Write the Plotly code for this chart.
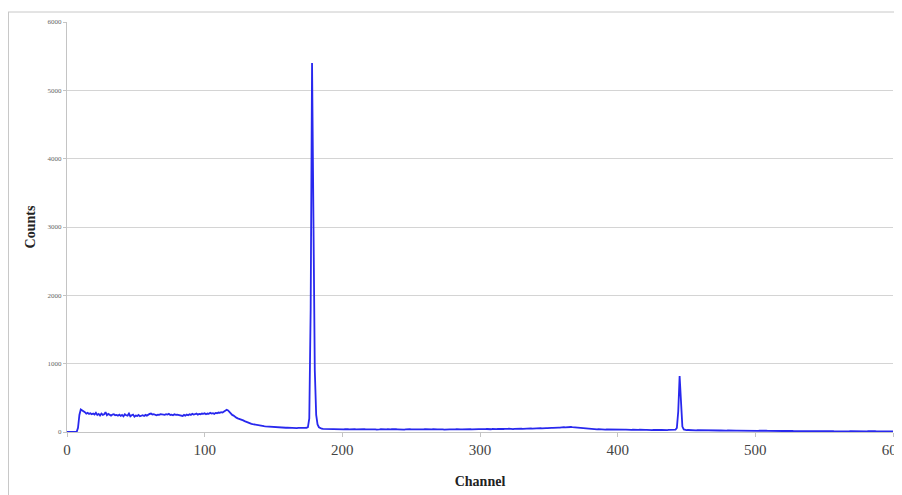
import plotly.graph_objects as go

# Channel numbers 0..600 (one count value per channel)
channels = list(range(0, 601))

counts = [
    # 0-19
    0, 0, 0, 0, 0, 0, 0, 0, 60, 250, 330, 320, 300, 290, 270, 280, 265, 275, 260, 270,
    # 20-39
    255, 280, 250, 265, 240, 270, 250, 260, 290, 245, 265, 250, 240, 255, 260, 245, 250, 240, 255, 235,
    # 40-59
    250, 230, 260, 245, 240, 270, 230, 245, 255, 225, 240, 235, 250, 230, 240, 245, 235, 250, 240, 255,
    # 60-79
    265, 270, 255, 260, 250, 245, 255, 250, 260, 255, 245, 250, 260, 255, 265, 250, 255, 245, 260, 250,
    # 80-99
    255, 250, 240, 245, 235, 250, 240, 255, 245, 260, 250, 265, 255, 260, 270, 255, 265, 260, 270, 265,
    # 100-119
    275, 260, 270, 265, 280, 270, 275, 265, 280, 275, 285, 280, 290, 285, 300, 310, 325, 315, 290, 270,
    # 120-139
    250, 240, 220, 210, 200, 195, 185, 180, 170, 160, 150, 145, 135, 130, 120, 115, 110, 105, 100, 95,
    # 140-159
    95, 90, 88, 85, 82, 80, 78, 75, 75, 72, 70, 72, 68, 70, 66, 68, 65, 66, 64, 62,
    # 160-179
    64, 62, 60, 62, 58, 60, 62, 58, 60, 58, 60, 56, 58, 60, 62, 70, 200, 1800, 5400, 3500,
    # 180-199
    900, 250, 110, 70, 55, 48, 45, 44, 42, 40, 42, 38, 40, 42, 38, 40, 38, 36, 40, 38,
    # 200-219
    40, 38, 42, 36, 40, 38, 41, 37, 39, 42, 38, 40, 36, 39, 41, 38, 40, 37, 42, 39,
    # 220-239
    38, 41, 37, 40, 39, 36, 42, 38, 40, 37, 39, 41, 38, 40, 36, 39, 42, 38, 37, 40,
    # 240-259
    39, 37, 41, 38, 40, 36, 39, 42, 38, 40, 37, 39, 41, 38, 36, 40, 39, 37, 42, 38,
    # 260-279
    40, 38, 36, 41, 39, 37, 40, 42, 38, 39, 37, 40, 41, 38, 36, 39, 42, 40, 38, 37,
    # 280-299
    41, 39, 38, 40, 36, 42, 39, 38, 40, 41, 37, 39, 42, 40, 38, 41, 39, 43, 40, 42,
    # 300-319
    41, 39, 43, 40, 42, 44, 41, 43, 40, 45, 42, 44, 41, 46, 43, 45, 42, 44, 47, 43,
    # 320-339
    45, 48, 44, 46, 43, 47, 49, 45, 48, 46, 50, 47, 49, 52, 48, 51, 49, 53, 50, 52,
    # 340-359
    55, 51, 54, 52, 56, 53, 57, 55, 58, 56, 60, 57, 61, 59, 62, 64, 61, 65, 63, 67,
    # 360-379
    66, 70, 68, 72, 75, 78, 73, 70, 68, 65, 62, 60, 58, 55, 53, 51, 50, 48, 46, 45,
    # 380-399
    44, 42, 43, 41, 40, 39, 41, 38, 40, 37, 39, 36, 38, 37, 35, 38, 36, 34, 37, 35,
    # 400-419
    34, 36, 33, 35, 32, 34, 36, 33, 31, 34, 32, 33, 30, 32, 34, 31, 33, 30, 32, 31,
    # 420-439
    30, 32, 29, 31, 30, 28, 31, 29, 30, 28, 30, 29, 31, 28, 30, 29, 28, 30, 29, 30,
    # 440-459
    31, 32, 34, 60, 300, 820, 380, 80, 38, 30, 28, 29, 27, 28, 26, 28, 27, 25, 27, 26,
    # 460-479
    25, 27, 24, 26, 25, 23, 25, 24, 26, 23, 24, 22, 24, 23, 22, 24, 21, 23, 22, 21,
    # 480-499
    22, 20, 22, 21, 20, 22, 19, 21, 20, 19, 21, 20, 18, 20, 19, 18, 20, 18, 19, 17,
    # 500-519
    18, 19, 17, 18, 16, 18, 17, 16, 18, 17, 16, 17, 15, 17, 16, 15, 17, 16, 15, 16,
    # 520-539
    15, 16, 14, 16, 15, 14, 16, 15, 14, 15, 13, 15, 14, 13, 15, 14, 13, 14, 13, 15,
    # 540-559
    14, 13, 14, 12, 14, 13, 12, 14, 13, 12, 13, 12, 14, 12, 13, 11, 13, 12, 11, 13,
    # 560-579
    12, 11, 12, 11, 13, 12, 11, 12, 10, 12, 11, 10, 12, 11, 10, 11, 10, 12, 11, 10,
    # 580-600
    11, 10, 11, 9, 11, 10, 9, 11, 10, 9, 10, 9, 10, 9, 10, 8, 10, 9, 8, 9, 8,
]

x_ticks = [0, 100, 200, 300, 400, 500, 600]
y_ticks = [0, 1000, 2000, 3000, 4000, 5000, 6000]

fig = go.Figure()
fig.add_trace(go.Scatter(
    x=channels, y=counts, mode="lines",
    line=dict(color="rgb(40,40,238)", width=1.8),
    hoverinfo="x+y", showlegend=False,
))

serif = "Liberation Serif, Times New Roman, serif"

# page body has an 8px offset; margins compensate so the plot lands at 67..893 x 22..432
fig.update_layout(
    width=902, height=495,
    margin=dict(l=59, r=17, t=14, b=71, autoexpand=False),
    paper_bgcolor="white", plot_bgcolor="white",
    font=dict(family=serif, color="#333"),
    xaxis=dict(
        range=[0, 600], tickvals=x_ticks, ticktext=[str(v) for v in x_ticks],
        showgrid=False, zeroline=False,
        showline=True, linecolor="#c4c4c4", linewidth=1,
        ticks="outside", ticklen=4, tickcolor="#c4c4c4",
        ticklabeloverflow="allow",
        tickfont=dict(family=serif, size=15, color="#444"),
        title=dict(text="<b>Channel</b>", font=dict(family=serif, size=14, color="#222"), standoff=19),
    ),
    yaxis=dict(
        range=[0, 6000], tickvals=y_ticks, ticktext=[str(v) for v in y_ticks],
        showgrid=True, gridcolor="#d4d4d4", gridwidth=1,
        zeroline=False,
        showline=True, linecolor="#c4c4c4", linewidth=1,
        ticks="outside", ticklen=3, tickcolor="#c4c4c4",
        tickfont=dict(family=serif, size=7, color="#666"),
        title=dict(text="<b>Counts</b>", font=dict(family=serif, size=14, color="#222"), standoff=8),
    ),
    shapes=[
        dict(type="line", xref="paper", yref="paper",
             x0=(0 - 59) / 826, x1=(910 - 59) / 826,
             y0=(424 - 4) / 410, y1=(424 - 4) / 410,
             line=dict(color="#c8c8c8", width=1)),
        dict(type="line", xref="paper", yref="paper",
             x0=(0.5 - 59) / 826, x1=(0.5 - 59) / 826,
             y0=(424 - 4) / 410, y1=(424 - 500) / 410,
             line=dict(color="#c8c8c8", width=1)),
    ],
)

fig.write_html("out.html")
